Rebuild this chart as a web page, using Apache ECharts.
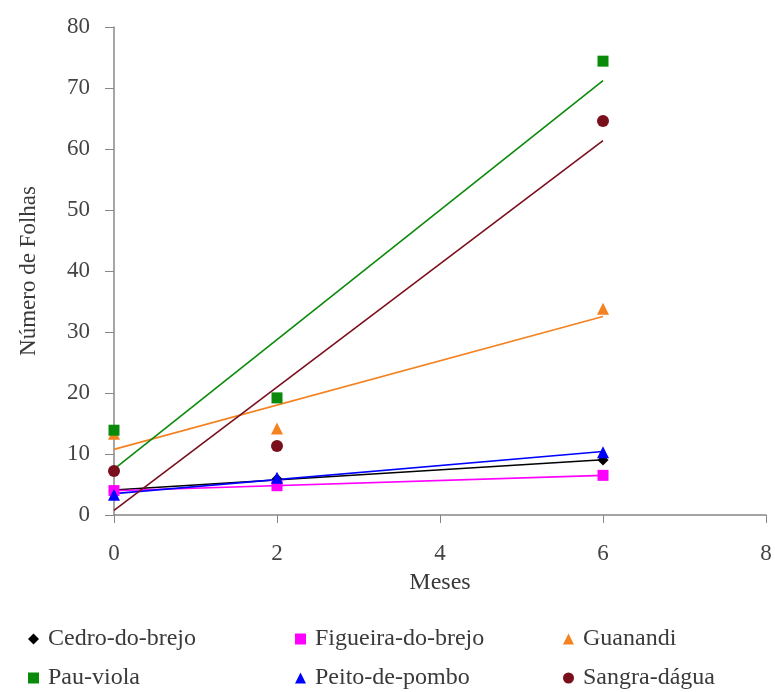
<!DOCTYPE html>
<html>
<head>
<meta charset="utf-8">
<script src="https://cdn.jsdelivr.net/npm/echarts@6/dist/echarts.min.js"></script>
<style>html,body{margin:0;padding:0;background:#fff}#c{width:775px;height:692px}</style>
</head>
<body>
<div id="c"></div>
<script>
const months = [0, 2, 6];
const seriesNames = ['Cedro-do-brejo', 'Figueira-do-brejo', 'Guanandi', 'Pau-viola', 'Peito-de-pombo', 'Sangra-dágua'];
const cedro = [4.0, 5.9, 9.0];
const figueira = [4.0, 4.8, 6.5];
const guanandi = [13.3, 14.2, 33.8];
const pauViola = [13.9, 19.2, 74.4];
const peito = [3.3, 6.1, 10.3];
const sangra = [7.2, 11.3, 64.6];
const yTicks = [0, 10, 20, 30, 40, 50, 60, 70, 80];
const xTicks = [0, 2, 4, 6, 8];

const values = [cedro, figueira, guanandi, pauViola, peito, sangra];
const colors = ['#000000', '#ff00ff', '#f58220', '#0a8a0a', '#0000ff', '#7a0f1c'];
const symbols = ['diamond', 'rect', 'triangle', 'rect', 'triangle', 'circle'];
const sizes = [11, 11, 12, 11, 12, 12];

function fit(xs, ys) {
  const n = xs.length;
  const mx = xs.reduce((a, b) => a + b, 0) / n;
  const my = ys.reduce((a, b) => a + b, 0) / n;
  let sxx = 0, sxy = 0;
  for (let i = 0; i < n; i++) { sxx += (xs[i] - mx) ** 2; sxy += (xs[i] - mx) * (ys[i] - my); }
  const b = sxy / sxx;
  return [my - b * mx, b];
}

const font = 'Liberation Serif';
const series = [];
values.forEach((v, i) => {
  const [a, b] = fit(months, v);
  const x0 = months[0], x1 = months[months.length - 1];
  series.push({
    name: seriesNames[i] + ' trend', type: 'line', data: [[x0, a + b * x0], [x1, a + b * x1]],
    showSymbol: false, symbol: 'none', lineStyle: { color: colors[i], width: 1.6 }, z: 2, silent: true
  });
});
values.forEach((v, i) => {
  series.push({
    name: seriesNames[i], type: 'scatter', data: months.map((m, j) => [m, v[j]]),
    symbol: symbols[i], symbolSize: sizes[i], itemStyle: { color: colors[i], opacity: 1 }, z: 5
  });
});

const legendPos = [[28, 627], [295, 627], [563, 627], [28, 666], [295, 666], [563, 666]];
const legends = seriesNames.map((n, i) => ({
  data: [{ name: n, icon: symbols[i] }], left: legendPos[i][0], top: legendPos[i][1],
  itemWidth: 11, itemHeight: 11, itemGap: 0, padding: 0,
  textStyle: { fontFamily: font, fontSize: 24, color: '#3a3a3a', padding: [0, 0, 0, 4] }
}));

const chart = echarts.init(document.getElementById('c'));
chart.setOption({
  backgroundColor: '#ffffff',
  animation: false,
  legend: legends,
  grid: { left: 114, right: 9, top: 27, bottom: 177 },
  xAxis: {
    type: 'value', min: xTicks[0], max: xTicks[xTicks.length - 1], interval: 2,
    name: 'Meses', nameLocation: 'middle', nameGap: 56,
    nameTextStyle: { fontFamily: font, fontSize: 24, color: '#3a3a3a' },
    axisLine: { show: true, onZero: false, lineStyle: { color: '#888888', width: 1.5 } },
    axisTick: { show: true, length: 8, lineStyle: { color: '#888888' } },
    axisLabel: { fontFamily: font, fontSize: 23, color: '#444444', margin: 27 },
    splitLine: { show: false }
  },
  yAxis: {
    type: 'value', min: yTicks[0], max: yTicks[yTicks.length - 1], interval: 10,
    name: 'Número de Folhas', nameLocation: 'middle', nameGap: 74, nameRotate: 90,
    nameTextStyle: { fontFamily: font, fontSize: 23, color: '#3a3a3a' },
    axisLine: { show: true, lineStyle: { color: '#888888', width: 1.5 } },
    axisTick: { show: true, length: 9, lineStyle: { color: '#888888' } },
    axisLabel: { fontFamily: font, fontSize: 23, color: '#444444', margin: 24 },
    splitLine: { show: false }
  },
  series: series
});
</script>
</body>
</html>
